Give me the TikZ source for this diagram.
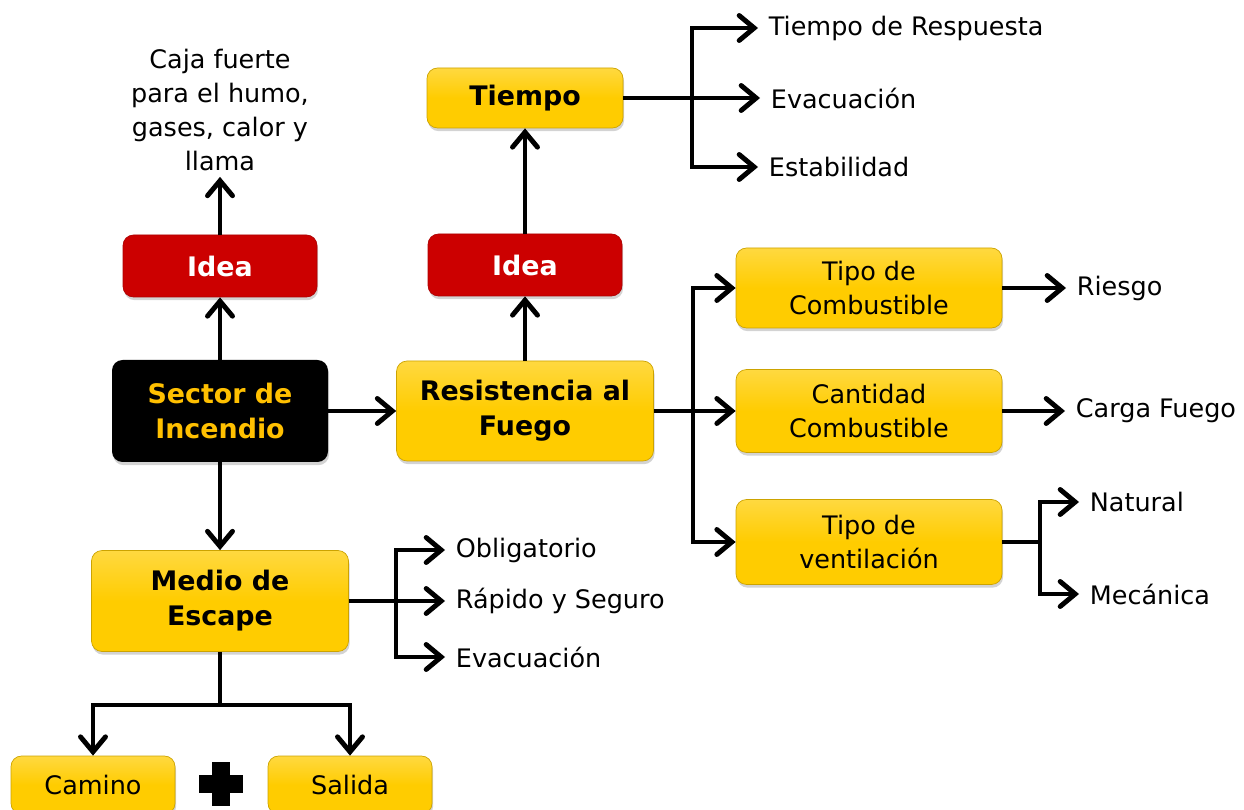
\documentclass[tikz,border=0pt]{standalone}
\usepackage{fontspec}
\setmainfont{DejaVu Sans}
\usepackage{xcolor}
\usetikzlibrary{arrows.meta, shadows}
\definecolor{boxyellow}{RGB}{255,204,0}
\definecolor{boxred}{RGB}{204,0,0}
\definecolor{txtyellow}{RGB}{255,192,0}

\begin{document}
\begin{tikzpicture}[x=0.02cm, y=-0.02cm]
\tikzstyle{every node}=[font=\fontsize{14.5}{19.5}\selectfont]
\tikzstyle{box}=[rounded corners=6pt, align=center, inner sep=0pt,
    drop shadow={opacity=0.35, shadow xshift=0.6pt, shadow yshift=-1.8pt}]
\tikzstyle{yelbox}=[box, top color=boxyellow!75!white, bottom color=boxyellow,
    middle color=boxyellow, draw=boxyellow!80!black, line width=0.4pt]
\tikzstyle{redbox}=[box, fill=boxred, draw=boxred!85!black, line width=0.4pt,
    text=white, font=\fontsize{15.3}{20}\selectfont\bfseries]
\tikzstyle{lbl}=[anchor=west, inner sep=6pt]
\tikzstyle{arr}=[-{Straight Barb[length=3mm, width=5mm, line cap=round]},
    line width=2.8pt]
\tikzstyle{ln}=[line width=2.8pt]

\useasboundingbox (0, 0) rectangle (1244, 810);

% central column
\node[box, fill=black, text=txtyellow, minimum width=216*0.02cm, minimum height=102*0.02cm,
    font=\fontsize{15.3}{20}\selectfont\bfseries] (sector) at (220, 411) {Sector de\\Incendio};
\node[redbox, minimum width=194*0.02cm, minimum height=62*0.02cm] (idea1) at (220, 266) {Idea};
\node[align=center, inner sep=3pt] (caja) at (220, 110) {Caja fuerte\\para el humo,\\gases, calor y\\llama};
\node[yelbox, minimum width=257*0.02cm, minimum height=101*0.02cm,
    font=\fontsize{15.3}{20}\selectfont\bfseries] (medio) at (220, 601) {Medio de\\Escape};
\node[yelbox, minimum width=164*0.02cm, minimum height=58*0.02cm] (camino) at (93, 785) {Camino};
\node[yelbox, minimum width=164*0.02cm, minimum height=58*0.02cm] (salida) at (350, 785) {Salida};
\fill (212, 762) rectangle (230, 806); % plus
\fill (199, 775) rectangle (243, 793);

\draw[arr] (sector.north) -- (idea1.south);
\draw[arr] (idea1.north) -- (caja.south);
\draw[arr] (sector.south) -- (medio.north);

% Resistencia al Fuego
\node[yelbox, minimum width=257*0.02cm, minimum height=100*0.02cm,
    font=\fontsize{15.3}{20}\selectfont\bfseries] (resist) at (525, 411) {Resistencia al\\Fuego};
\node[redbox, minimum width=194*0.02cm, minimum height=62*0.02cm] (idea2) at (525, 265) {Idea};
\node[yelbox, minimum width=196*0.02cm, minimum height=60*0.02cm,
    font=\fontsize{15.3}{20}\selectfont\bfseries] (tiempo) at (525, 98) {Tiempo};
\draw[arr] (sector.east) -- (sector.east -| resist.west);
\draw[arr] (resist.north) -- (idea2.south);
\draw[arr] (idea2.north) -- (tiempo.south);

% Tiempo
\node[lbl] (respuesta) at (758, 28) {Tiempo de Respuesta};
\node[lbl] (evac1) at (760, 98) {Evacuación};
\node[lbl] (estab) at (758, 167) {Estabilidad};
\coordinate (tb) at (692, 98);
\draw[ln] (tiempo.east) -- (tb);
\draw[arr] (tb) |- (respuesta.west);
\draw[arr] (tb) -- (evac1.west);
\draw[arr] (tb) |- (estab.west);

% combustible
\node[yelbox, minimum width=266*0.02cm, minimum height=80*0.02cm] (tipocomb) at (869, 288) {Tipo de\\Combustible};
\node[yelbox, minimum width=266*0.02cm, minimum height=83*0.02cm] (cantidad) at (869, 411) {Cantidad\\Combustible};
\node[yelbox, minimum width=266*0.02cm, minimum height=85*0.02cm] (ventila) at (869, 542) {Tipo de\\ventilación};
\coordinate (rb) at (693, 411);
\draw[ln] (resist.east) -- (rb);
\draw[arr] (rb) |- (tipocomb.west);
\draw[arr] (rb) -- (cantidad.west);
\draw[arr] (rb) |- (ventila.west);

\node[lbl] (riesgo) at (1066, 288) {Riesgo};
\node[lbl] (carga) at (1065, 411) {Carga Fuego};
\node[lbl] (natural) at (1079, 502) {Natural};
\node[lbl] (mecanica) at (1079, 594) {Mecánica};
\draw[arr] (tipocomb.east) -- (riesgo.west);
\draw[arr] (cantidad.east) -- (carga.west);
\coordinate (vb) at (1040, 542);
\draw[ln] (ventila.east) -- (vb);
\draw[arr] (vb) |- (natural.west);
\draw[arr] (vb) |- (mecanica.west);

% Medio de Escape
\node[lbl] (oblig) at (445, 550) {Obligatorio};
\node[lbl] (rapido) at (445, 601) {Rápido y Seguro};
\node[lbl] (evac2) at (445, 657) {Evacuación};
\coordinate (mb) at (396, 601);
\draw[ln] (medio.east) -- (mb);
\draw[arr] (mb) |- (oblig.west);
\draw[arr] (mb) |- (rapido.west);
\draw[arr] (mb) |- (evac2.west);

\coordinate (md) at (220, 705);
\draw[ln] (medio.south) -- (md);
\draw[arr] (md) -| (camino.north);
\draw[arr] (md) -| (salida.north);
\end{tikzpicture}
\end{document}
